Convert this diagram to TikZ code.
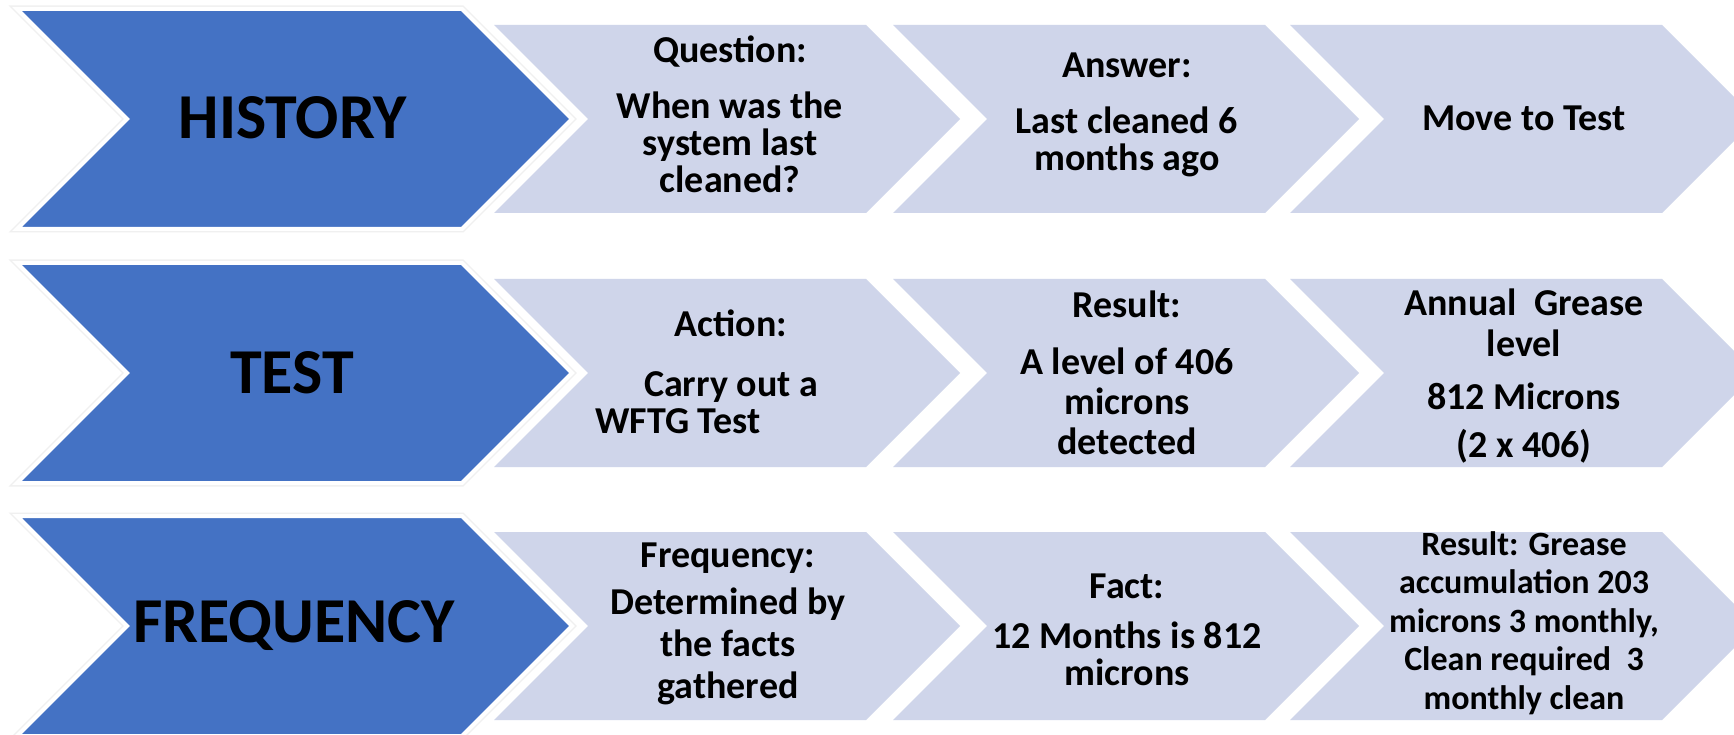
\documentclass[tikz,border=0pt]{standalone}
\usepackage{fontspec}
\setmainfont{Carlito}
\definecolor{chevblue}{HTML}{4472C4}
\definecolor{chevgray}{HTML}{CFD5EA}
\begin{document}
\begin{tikzpicture}[x=1pt,y=-1pt,
  lbl/.style={font=\fontsize{38}{37}\selectfont\bfseries, align=center, inner sep=0pt},
  lblwide/.style={font=\fontsize{38}{42}\selectfont\bfseries, align=center, inner sep=0pt},
  lblsmall/.style={font=\fontsize{34}{38.5}\selectfont\bfseries, align=center, inner sep=0pt},
  big/.style={font=\fontsize{64}{70}\selectfont\bfseries, inner sep=0pt},
  grayfill/.style={fill=chevgray},
  blueshadow/.style={draw=black!6, line width=7pt, line join=miter},
  bluefill/.style={fill=chevblue, draw=white, line width=4pt, line join=miter}]
\useasboundingbox (0,0) rectangle (1734,735);
\fill[white] (0,0) rectangle (1734,735);
\foreach \cy in {119,373,626} {
  \foreach \lx in {494,893,1290} {
    \fill[grayfill] (\lx,\cy-94) -- ++(372,0) -- ++(94,94) -- ++(-94,94) -- ++(-372,0) -- ++(94,-94) -- cycle;
  }
  \draw[blueshadow] (17,\cy-110) -- ++(445,0) -- ++(110,110) -- ++(-110,110) -- ++(-445,0) -- ++(110,-110) -- cycle;
  \draw[bluefill] (17,\cy-110) -- ++(445,0) -- ++(110,110) -- ++(-110,110) -- ++(-445,0) -- ++(110,-110) -- cycle;
}
% Row 1
\node[big] (hist) at (293,118) {HISTORY};
\node[lbl] (q) at (730,114) {Question:\\[19pt]When was the\\system last\\cleaned?};
\node[lbl] (ans) at (1127,115) {Answer:\\[19pt]Last cleaned 6\\months ago};
\node[lbl] (mv) at (1524,118) {Move to Test};
% Row 2
\node[big] (test) at (292,373) {TEST};
\node[lbl] (act) at (731,372) {Action:\\[23pt]Carry out a\\WFTG Test\rule{106pt}{0pt}};
\node[lbl] (res) at (1127,373) {Result:\\[20pt]A level of 406\\[3pt]microns\\[3pt]detected};
\node[lbl] (ann) at (1524,376) {Annual~ Grease\\[4pt]level\\[16pt]812 Microns\\[11pt](2 x 406)};
% Row 3
\node[big] (freq) at (294,626) {FREQUENCY};
\node[lblwide] (fr) at (728,624) {Frequency:\\[5pt]Determined by\\the facts\\gathered};
\node[lbl] (fact) at (1127,630) {Fact:\\[13pt]12 Months is 812\\microns};
\node[lblsmall] (res3) at (1524,623) {Result: Grease\\accumulation 203\\microns 3 monthly,\\Clean required~ 3\\monthly clean};
\end{tikzpicture}
\end{document}
